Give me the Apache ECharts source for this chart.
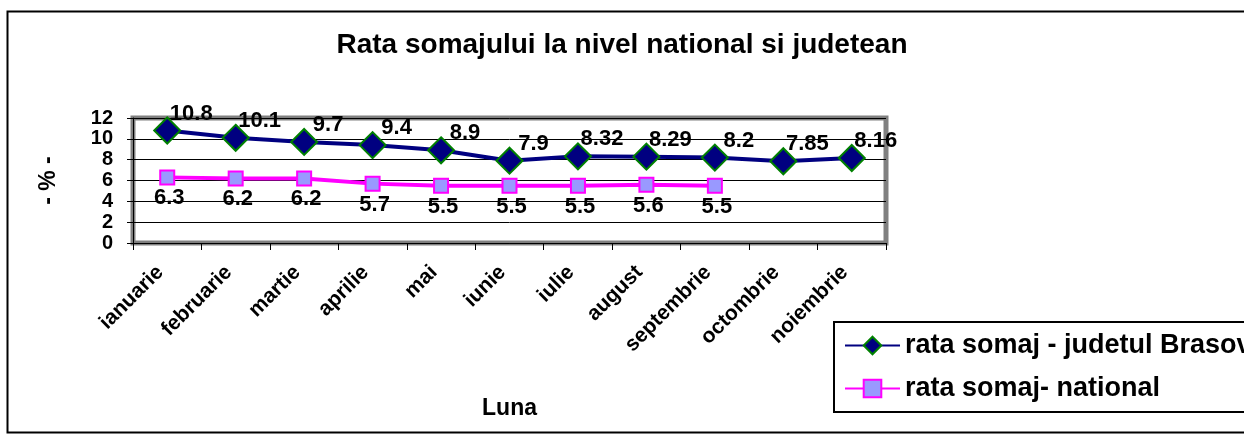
<!DOCTYPE html>
<html>
<head>
    <meta charset="UTF-8">
    <title>Rata somajului</title>
    <script src="https://cdn.jsdelivr.net/npm/echarts@6/dist/echarts.min.js"></script>
    <style>
        body { margin: 0; background: #fff; }
        #main { width: 1244px; height: 445px; }
    </style>
</head>
<body>
<div id="main"></div>
<script type="text/javascript">
    // date
    var luni = ['ianuarie', 'februarie', 'martie', 'aprilie', 'mai', 'iunie',
        'iulie', 'august', 'septembrie', 'octombrie', 'noiembrie'];
    var brasov = [10.8, 10.1, 9.7, 9.4, 8.9, 7.9, 8.32, 8.29, 8.2, 7.85, 8.16];
    var national = [6.3, 6.2, 6.2, 5.7, 5.5, 5.5, 5.5, 5.6, 5.5, null, null];
    var numeSerii = ['rata somaj - judetul Brasov', 'rata somaj- national'];

    var font = '"Liberation Sans", Arial, sans-serif';
    var myChart = echarts.init(document.getElementById('main'));

    var option = {
        animation: false,
        backgroundColor: '#fff',
        textStyle: { fontFamily: font },
        title: {
            text: 'Rata somajului la nivel national si judetean',
            left: 'center',
            top: 26,
            textStyle: { fontSize: 28, fontWeight: 'bold', color: '#000', fontFamily: font }
        },
        graphic: [{
            type: 'rect',
            shape: { x: 7.5, y: 11.5, width: 1300, height: 421 },
            style: { fill: 'none', stroke: '#000', lineWidth: 2 },
            z: -1
        }],
        legend: {
            orient: 'vertical',
            left: 834,
            top: 322,
            padding: [10, 40, 10, 10],
            itemWidth: 55,
            itemHeight: 22,
            itemGap: 16,
            borderColor: '#000',
            borderWidth: 2,
            backgroundColor: '#fff',
            data: numeSerii,
            textStyle: { fontSize: 27, fontWeight: 'bold', color: '#000', fontFamily: font }
        },
        grid: {
            left: 133,
            right: 358,
            top: 118,
            bottom: 202,
            show: true,
            borderColor: '#808080',
            borderWidth: 5,
            backgroundColor: '#fff'
        },
        xAxis: {
            type: 'category',
            data: luni,
            boundaryGap: true,
            name: 'Luna',
            nameLocation: 'middle',
            nameGap: 154,
            nameTextStyle: { fontSize: 23, fontWeight: 'bold', color: '#000', fontFamily: font },
            axisLine: { lineStyle: { color: '#000', width: 1 } },
            axisTick: { show: true, length: 7, lineStyle: { color: '#000' } },
            axisLabel: {
                rotate: 45,
                margin: 19,
                padding: [0, 10, 0, 0],
                interval: 0,
                fontSize: 21,
                fontWeight: 'bold',
                color: '#000',
                fontFamily: font
            }
        },
        yAxis: {
            type: 'value',
            min: 0,
            max: 12,
            interval: 2,
            name: '- % -',
            nameLocation: 'middle',
            nameGap: 73,
            nameTextStyle: { fontSize: 23, fontWeight: 'bold', color: '#000', fontFamily: font },
            axisLine: { show: true, lineStyle: { color: '#000', width: 1 } },
            axisTick: { show: true, length: 6, lineStyle: { color: '#000' } },
            axisLabel: {
                margin: 20,
                fontSize: 20,
                showMinLabel: true,
                showMaxLabel: true,
                fontWeight: 'bold',
                color: '#000',
                fontFamily: font
            },
            splitLine: { show: true, lineStyle: { color: '#000', width: 1 } }
        },
        series: [
            {
                name: numeSerii[0],
                type: 'line',
                data: brasov,
                symbol: 'diamond',
                symbolSize: 26,
                lineStyle: { color: '#000080', width: 4 },
                itemStyle: { color: '#000080', borderColor: '#008000', borderWidth: 2 },
                label: {
                    show: true,
                    position: 'inside',
                    offset: [24, -17],
                    fontSize: 22,
                    fontWeight: 'bold',
                    color: '#000',
                    fontFamily: font
                },
                z: 3
            },
            {
                name: numeSerii[1],
                type: 'line',
                data: national,
                symbol: 'rect',
                symbolSize: 14,
                lineStyle: { color: '#ff00ff', width: 4 },
                itemStyle: { color: '#9999ff', borderColor: '#ff00ff', borderWidth: 2 },
                label: {
                    show: true,
                    position: 'inside',
                    offset: [2, 21],
                    fontSize: 22,
                    fontWeight: 'bold',
                    color: '#000',
                    fontFamily: font
                },
                z: 2
            }
        ]
    };

    myChart.setOption(option);
</script>
</body>
</html>
